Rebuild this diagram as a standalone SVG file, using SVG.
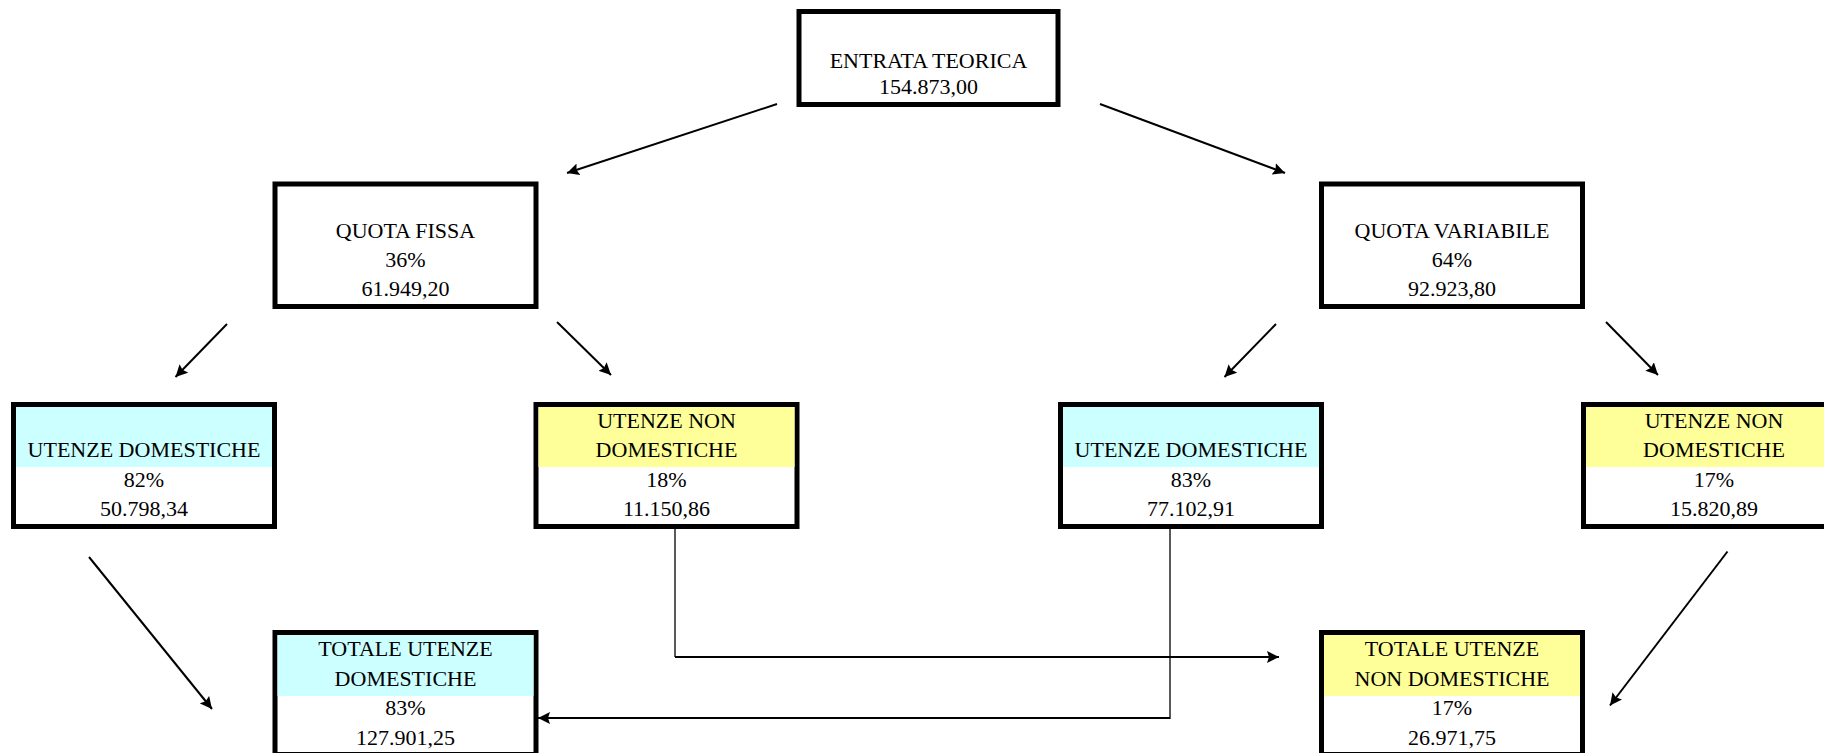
<svg xmlns="http://www.w3.org/2000/svg" width="1824" height="753" viewBox="0 0 1824 753">
<style>
.box{fill:#fff;stroke:#000;stroke-width:5}
.cy{fill:#CCFFFF}
.ye{fill:#FFFF99}
text{font-family:"Liberation Serif","Times New Roman",serif;font-size:22px;fill:#000;text-anchor:middle}
.c{stroke:#000;fill:none}
.d{stroke-width:2}
.h{stroke-width:2}
.v{stroke-width:1.3}
</style>
<defs>
<marker id="ah" viewBox="0 0 12 12" refX="12" refY="6" markerWidth="12" markerHeight="12" markerUnits="userSpaceOnUse" orient="auto">
<path d="M0,0 L12,6 L0,12 L2,6 z" fill="#000"/>
</marker>
</defs>
<rect width="1824" height="753" fill="#fff"/>

<g id="entrata-teorica">
<rect class="box" x="799" y="11.5" width="259" height="93"/>
<text x="928.5" y="68">ENTRATA TEORICA</text>
<text x="928.5" y="94">154.873,00</text>
</g>

<g id="quota-fissa">
<rect class="box" x="275" y="184" width="261" height="122.5"/>
<text x="405.5" y="238">QUOTA FISSA</text>
<text x="405.5" y="267">36%</text>
<text x="405.5" y="296">61.949,20</text>
</g>

<g id="quota-variabile">
<rect class="box" x="1321.5" y="184" width="261" height="122.5"/>
<text x="1452" y="238">QUOTA VARIABILE</text>
<text x="1452" y="267">64%</text>
<text x="1452" y="296">92.923,80</text>
</g>

<g id="ud-fissa">
<rect class="box" x="13.5" y="404.5" width="261" height="122"/>
<rect class="cy" x="16" y="407" width="256" height="60"/>
<text x="144" y="457">UTENZE DOMESTICHE</text>
<text x="144" y="487">82%</text>
<text x="144" y="516">50.798,34</text>
</g>

<g id="und-fissa">
<rect class="box" x="536" y="404.5" width="261" height="122"/>
<rect class="ye" x="538.5" y="407" width="256" height="60"/>
<text x="666.5" y="428">UTENZE NON</text>
<text x="666.5" y="457">DOMESTICHE</text>
<text x="666.5" y="487">18%</text>
<text x="666.5" y="516">11.150,86</text>
</g>

<g id="ud-variabile">
<rect class="box" x="1060.5" y="404.5" width="261" height="122"/>
<rect class="cy" x="1063" y="407" width="256" height="60"/>
<text x="1191" y="457">UTENZE DOMESTICHE</text>
<text x="1191" y="487">83%</text>
<text x="1191" y="516">77.102,91</text>
</g>

<g id="und-variabile">
<rect class="box" x="1583.5" y="404.5" width="261" height="122"/>
<rect class="ye" x="1586" y="407" width="256" height="60"/>
<text x="1714" y="428">UTENZE NON</text>
<text x="1714" y="457">DOMESTICHE</text>
<text x="1714" y="487">17%</text>
<text x="1714" y="516">15.820,89</text>
</g>

<g id="totale-ud">
<rect class="box" x="275" y="632.5" width="261" height="122"/>
<rect class="cy" x="277.5" y="635" width="256" height="61"/>
<text x="405.5" y="656">TOTALE UTENZE</text>
<text x="405.5" y="686">DOMESTICHE</text>
<text x="405.5" y="715">83%</text>
<text x="405.5" y="745">127.901,25</text>
</g>

<g id="totale-und">
<rect class="box" x="1321.5" y="632.5" width="261" height="122"/>
<rect class="ye" x="1324" y="635" width="256" height="61"/>
<text x="1452" y="656">TOTALE UTENZE</text>
<text x="1452" y="686">NON DOMESTICHE</text>
<text x="1452" y="715">17%</text>
<text x="1452" y="745">26.971,75</text>
</g>

<g id="connectors">
<line class="c d" x1="777" y1="104" x2="567" y2="173" marker-end="url(#ah)"/>
<line class="c d" x1="1100" y1="104" x2="1285" y2="173" marker-end="url(#ah)"/>
<line class="c d" x1="227" y1="324" x2="175.5" y2="377" marker-end="url(#ah)"/>
<line class="c d" x1="557" y1="322" x2="611" y2="375" marker-end="url(#ah)"/>
<line class="c d" x1="1276" y1="324" x2="1224.5" y2="377" marker-end="url(#ah)"/>
<line class="c d" x1="1606" y1="322" x2="1658" y2="375" marker-end="url(#ah)"/>
<line class="c d" x1="89" y1="557" x2="212" y2="709" marker-end="url(#ah)"/>
<line class="c d" x1="1727.5" y1="551.5" x2="1610" y2="705.5" marker-end="url(#ah)"/>
<line class="c v" x1="675" y1="528" x2="675" y2="657"/>
<line class="c h" x1="675" y1="657" x2="1279" y2="657" marker-end="url(#ah)"/>
<line class="c v" x1="1170" y1="528" x2="1170" y2="719"/>
<line class="c h" x1="1170" y1="718" x2="538" y2="718" marker-end="url(#ah)"/>
</g>
</svg>
